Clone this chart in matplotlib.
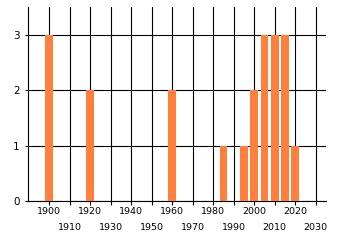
import numpy as np
import matplotlib
matplotlib.use("Agg")
import matplotlib.pyplot as plt

years = [1900, 1920, 1960, 1985, 1995, 2000, 2005, 2010, 2015, 2020]
counts = [3, 2, 2, 1, 1, 2, 3, 3, 3, 1]
major_ticks = list(range(1900, 2030, 20))
minor_ticks = list(range(1910, 2040, 20))
y_ticks = [0, 1, 2, 3]

fig = plt.figure(figsize=(3.4, 2.45), dpi=100)
ax = fig.add_axes([28 / 340, 1 - 201 / 245, 298 / 340, 194 / 245])

ax.bar(years, counts, width=3.8, color="#ff7f3f", zorder=3)

ax.set_xlim(1889.6, 2035)
ax.set_ylim(0, 3.5)

ax.set_xticks(major_ticks)
ax.set_xticks(minor_ticks, minor=True)
ax.set_xticklabels([str(t) for t in major_ticks])
ax.set_xticklabels([str(t) for t in minor_ticks], minor=True)
ax.set_yticks(y_ticks)

ax.tick_params(axis="x", which="major", length=3, width=0.8, pad=1.2, labelsize=6.8, color="black")
ax.tick_params(axis="x", which="minor", length=3, width=0.8, pad=12.5, labelsize=6.8, color="black")
ax.tick_params(axis="y", length=2, width=0.8, pad=4, labelsize=7.5)

ax.grid(True, which="both", color="black", linewidth=0.8, zorder=0)
ax.set_axisbelow(True)

for s in ["top", "right"]:
    ax.spines[s].set_visible(False)
for s in ["left", "bottom"]:
    ax.spines[s].set_linewidth(0.8)

fig.savefig("out.png", dpi=100)
